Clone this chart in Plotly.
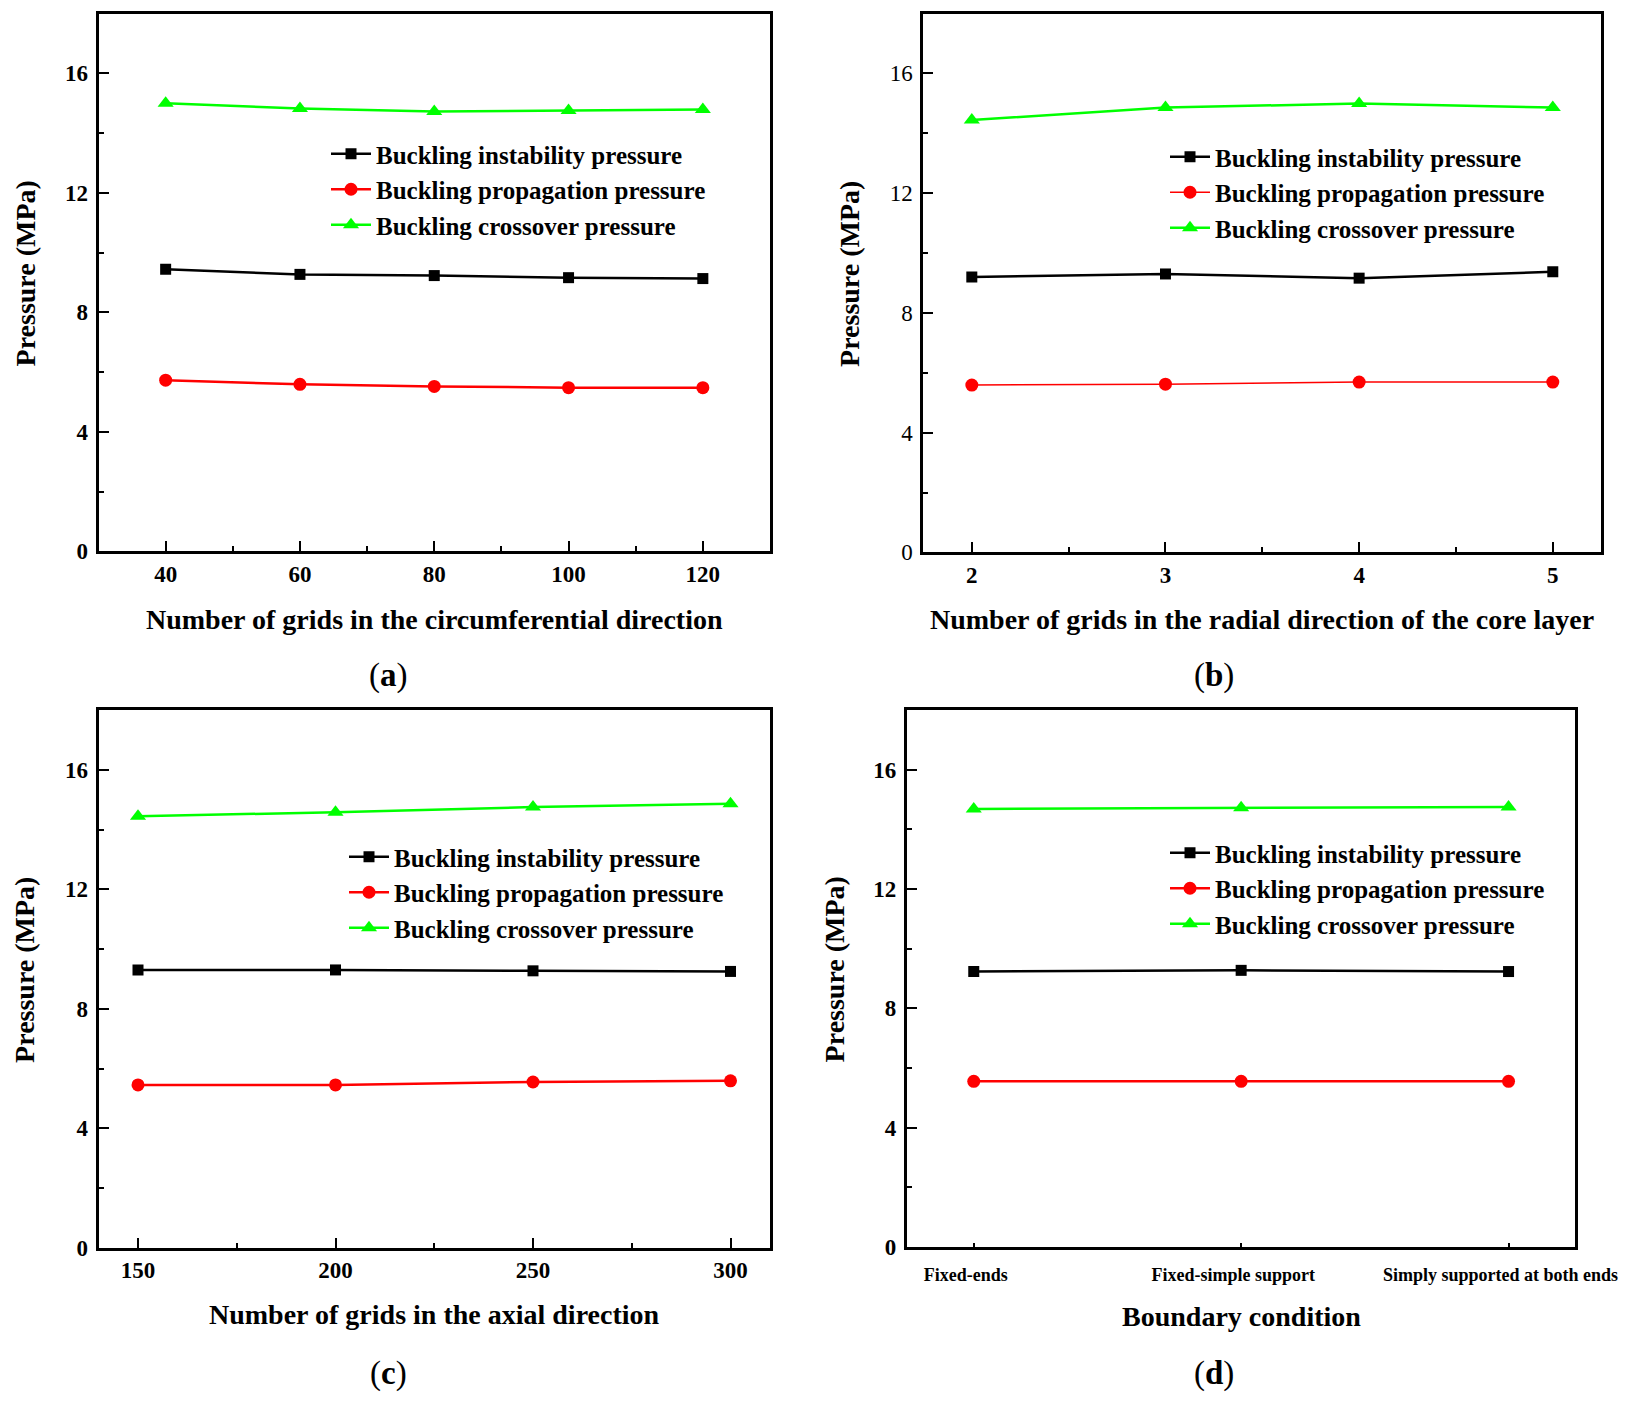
import plotly.graph_objects as go

W, H = 1625, 1403

# ---------------- data ----------------
series_names = ["Buckling instability pressure",
                "Buckling propagation pressure",
                "Buckling crossover pressure"]

x_a = [40, 60, 80, 100, 120]
inst_a = [9.44, 9.27, 9.23, 9.16, 9.13]
prop_a = [5.73, 5.59, 5.52, 5.48, 5.48]
cross_a = [15.00, 14.82, 14.72, 14.75, 14.79]

x_b = [2, 3, 4, 5]
inst_b = [9.20, 9.30, 9.16, 9.37]
prop_b = [5.59, 5.62, 5.69, 5.69]
cross_b = [14.44, 14.86, 14.99, 14.86]

x_c = [150, 200, 250, 300]
inst_c = [9.30, 9.30, 9.27, 9.25]
prop_c = [5.45, 5.45, 5.55, 5.59]
cross_c = [14.44, 14.58, 14.75, 14.86]

x_d = ["Fixed-ends", "Fixed-simple support", "Simply supported at both ends"]
inst_d = [9.23, 9.27, 9.23]
prop_d = [5.55, 5.55, 5.55]
cross_d = [14.68, 14.72, 14.75]

y_ticks = [0, 4, 8, 12, 16]
y_minor = [2, 6, 10, 14]

x_titles = ["Number of grids in the circumferential direction",
            "Number of grids in the radial direction of the core layer",
            "Number of grids in the axial direction",
            "Boundary condition"]
y_title = "Pressure (MPa)"
panel_labels = ["a", "b", "c", "d"]

# ---------------- layout helpers ----------------
FONT = "Liberation Serif"
px_x = lambda p: p / W
px_y = lambda p: 1 - p / H

panels = [
    dict(x0=98.5, x1=770, y0=13.5, y1=551.4, xr=[30, 130], dt=20, minor=10,
         xs=x_a, data=(inst_a, prop_a, cross_a), leg=(326, 131), ybold=True,
         xt_y=619, yt_x=25, lab=(388, 676)),
    dict(x0=923.4, x1=1601.2, y0=13.5, y1=552.4, xr=[1.75, 5.25], dt=1, minor=0.5,
         xs=x_b, data=(inst_b, prop_b, cross_b), leg=(1165, 134), ybold=False,
         xt_y=619, yt_x=850, lab=(1214, 676)),
    dict(x0=98.5, x1=770, y0=710, y1=1247.8, xr=[140, 310], dt=50, minor=25,
         xs=x_c, data=(inst_c, prop_c, cross_c), leg=(344, 834), ybold=True,
         xt_y=1314, yt_x=25, lab=(388, 1373)),
    dict(x0=906.9, x1=1575.4, y0=710, y1=1246.8, xr=[-0.25, 2.25], dt=None, minor=None,
         xs=x_d, data=(inst_d, prop_d, cross_d), leg=(1165, 830), ybold=True,
         xt_y=1316, yt_x=834, lab=(1214, 1373)),
]

styles = [
    dict(color="#000000", symbol="square", size=11, width=2.5),
    dict(color="#FF0000", symbol="circle", size=13, width=2.5),
    dict(color="#00FF00", symbol="triangle-up", size=14, width=2.5),
]

fig = go.Figure()
layout = dict(width=W, height=H, autosize=False,
              margin=dict(l=0, r=0, t=0, b=0, autoexpand=False),
              paper_bgcolor="white", plot_bgcolor="white",
              font=dict(family=FONT, color="black"),
              showlegend=True,
              annotations=[])

for i, p in enumerate(panels):
    k = "" if i == 0 else str(i + 1)
    leg = "legend" + k
    for j, (vals, st) in enumerate(zip(p["data"], styles)):
        w = st["width"]
        if i == 1 and j == 1:
            w = 1.5
        fig.add_trace(go.Scatter(
            x=p["xs"], y=vals, mode="lines+markers", name=series_names[j],
            xaxis="x" + k, yaxis="y" + k, legend=leg,
            line=dict(color=st["color"], width=w),
            marker=dict(color=st["color"], symbol=st["symbol"], size=st["size"]),
        ))
    xa = dict(domain=[px_x(p["x0"]), px_x(p["x1"])], anchor="y" + k,
              range=p["xr"], showline=True, mirror=True, linecolor="black",
              linewidth=3, showgrid=False, zeroline=False, automargin=False,
              ticks="inside", ticklen=10, tickwidth=2, tickcolor="black",
              ticklabelstandoff=0,
              tickfont=dict(family=FONT, size=23, color="black", weight="bold"))
    if p["dt"] is not None:
        xa.update(tick0=p["xs"][0], dtick=p["dt"],
                  minor=dict(ticks="inside", dtick=p["minor"], tick0=p["xs"][0],
                             ticklen=5, tickwidth=2, tickcolor="black"))
    else:
        xa.update(type="category", ticklen=4, ticklabelstandoff=10,
                  ticklabelshift=-8,
                  tickfont=dict(family=FONT, size=18, color="black", weight="bold"))
    ya = dict(domain=[px_y(p["y1"]), px_y(p["y0"])], anchor="x" + k,
              range=[0, 18], showline=True, mirror=True, linecolor="black",
              linewidth=3, showgrid=False, zeroline=False, automargin=False,
              tickvals=y_ticks, ticks="inside", ticklen=10, tickwidth=2,
              tickcolor="black", ticklabelstandoff=3,
              tickfont=dict(family=FONT, size=23, color="black",
                            weight="bold" if p["ybold"] else "normal"),
              minor=dict(ticks="inside", tickvals=y_minor, ticklen=5,
                         tickwidth=2, tickcolor="black"))
    layout["xaxis" + k] = xa
    layout["yaxis" + k] = ya
    layout[leg] = dict(x=px_x(p["leg"][0]), y=px_y(p["leg"][1]),
                       xanchor="left", yanchor="top", bgcolor="rgba(0,0,0,0)",
                       font=dict(family=FONT, size=25, color="black", weight="bold"),
                       itemwidth=40)
    layout["annotations"].append(dict(
        text=x_titles[i], x=px_x((p["x0"] + p["x1"]) / 2), y=px_y(p["xt_y"]),
        xref="paper", yref="paper", showarrow=False, xanchor="center", yanchor="middle",
        font=dict(family=FONT, size=28, color="black", weight="bold")))
    layout["annotations"].append(dict(
        text=y_title, x=px_x(p["yt_x"]), y=px_y((p["y0"] + p["y1"]) / 2 - 9),
        xref="paper", yref="paper", showarrow=False, xanchor="center", yanchor="middle",
        textangle=-90,
        font=dict(family=FONT, size=28, color="black", weight="bold")))
    layout["annotations"].append(dict(
        text="(<b>" + panel_labels[i] + "</b>)", x=px_x(p["lab"][0]), y=px_y(p["lab"][1]),
        xref="paper", yref="paper", showarrow=False, xanchor="center", yanchor="middle",
        font=dict(family=FONT, size=33, color="black")))

fig.update_layout(**layout)
fig.write_html("out.html")
